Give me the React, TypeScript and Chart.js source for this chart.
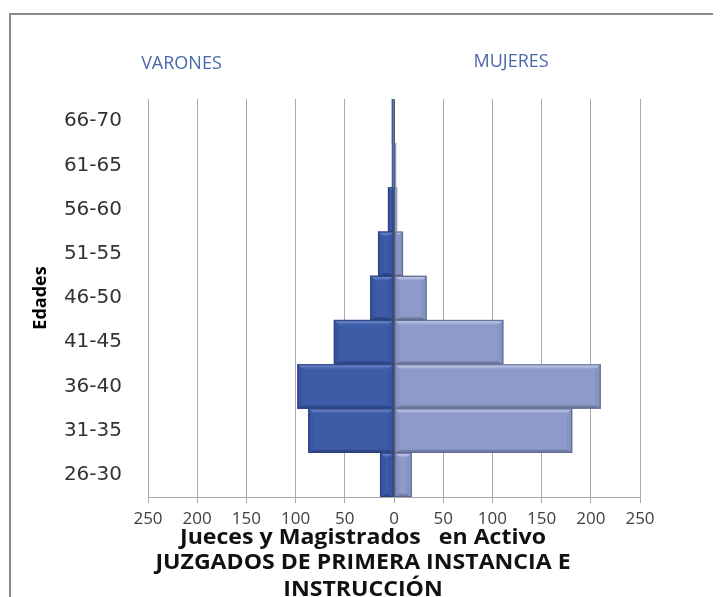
import React, { useEffect, useRef } from "react";
import { Chart, registerables } from "chart.js";

Chart.register(...registerables);

const ageGroups = ["26-30", "31-35", "36-40", "41-45", "46-50", "51-55", "56-60", "61-65", "66-70"];
const varones = [14, 87, 98, 61, 24, 16, 6, 2, 2];
const mujeres = [18, 181, 210, 111, 33, 9, 3, 2, 0];
const xTicks = [-250, -200, -150, -100, -50, 0, 50, 100, 150, 200, 250];
const sideLabels = ["VARONES", "MUJERES"];
const bottomTitle = ["Jueces y Magistrados   en Activo", "JUZGADOS DE PRIMERA INSTANCIA E", "INSTRUCCIÓN"];

const W = 713;
const H = 589;
const FONT = '"Open Sans", "Liberation Sans", sans-serif';

const palettes = [
  { face: "#3d5ba7", top: "#7891d6", bottom: "#2e4889", side: "#38559f", border: "#2b3f78" },
  { face: "#8e9bca", top: "#cdd6f4", bottom: "#727ea8", side: "#8592c2", border: "#5f688c" },
];

const bevelPlugin = {
  id: "bevel",
  afterDatasetsDraw(chart: any) {
    const ctx = chart.ctx;
    chart.data.datasets.forEach((ds: any, di: number) => {
      const meta = chart.getDatasetMeta(di);
      const p = palettes[di];
      meta.data.forEach((el: any) => {
        const left = Math.min(el.x, el.base);
        const right = Math.max(el.x, el.base);
        const top = el.y - el.height / 2;
        const bottom = el.y + el.height / 2;
        const w = right - left;
        const h = bottom - top;
        if (w < 3) return;
        const b = Math.min(5, w / 2, h / 2);
        ctx.save();
        const g = ctx.createLinearGradient(0, top, 0, top + b);
        g.addColorStop(0, p.top);
        g.addColorStop(1, p.face);
        ctx.fillStyle = g;
        ctx.beginPath();
        ctx.moveTo(left, top);
        ctx.lineTo(right, top);
        ctx.lineTo(right - b, top + b);
        ctx.lineTo(left + b, top + b);
        ctx.closePath();
        ctx.fill();
        ctx.fillStyle = p.bottom;
        ctx.beginPath();
        ctx.moveTo(left, bottom);
        ctx.lineTo(right, bottom);
        ctx.lineTo(right - b, bottom - b * 0.6);
        ctx.lineTo(left + b, bottom - b * 0.6);
        ctx.closePath();
        ctx.fill();
        ctx.fillStyle = p.side;
        ctx.beginPath();
        ctx.moveTo(left, top);
        ctx.lineTo(left + b, top + b);
        ctx.lineTo(left + b, bottom - b * 0.6);
        ctx.lineTo(left, bottom);
        ctx.closePath();
        ctx.fill();
        ctx.beginPath();
        ctx.moveTo(right, top);
        ctx.lineTo(right - b, top + b);
        ctx.lineTo(right - b, bottom - b * 0.6);
        ctx.lineTo(right, bottom);
        ctx.closePath();
        ctx.fill();
        ctx.strokeStyle = p.border;
        ctx.lineWidth = 1;
        ctx.strokeRect(left + 0.5, top + 0.5, w - 1, h - 1);
        ctx.restore();
      });
    });
    const xs = chart.scales.x;
    const x0 = Math.round(xs.getPixelForValue(0)) + 0.5;
    ctx.save();
    ctx.strokeStyle = "#5a5a5a";
    ctx.lineWidth = 1;
    ctx.beginPath();
    ctx.moveTo(x0, chart.chartArea.top);
    ctx.lineTo(x0, chart.chartArea.bottom);
    ctx.stroke();
    ctx.restore();
  },
};

const decorPlugin = {
  id: "decor",
  beforeDraw(chart: any) {
    const ctx = chart.ctx;
    ctx.save();
    ctx.fillStyle = "#ffffff";
    ctx.fillRect(0, 0, chart.width, chart.height);
    ctx.strokeStyle = "#8a8a8a";
    ctx.lineWidth = 2;
    ctx.beginPath();
    ctx.moveTo(2, chart.height);
    ctx.lineTo(2, 6);
    ctx.lineTo(chart.width, 6);
    ctx.stroke();
    ctx.restore();
  },
  afterDraw(chart: any) {
    const ctx = chart.ctx;
    const xs = chart.scales.x;
    ctx.save();
    ctx.fillStyle = "#4a69ad";
    ctx.font = `18px ${FONT}`;
    ctx.textAlign = "center";
    ctx.textBaseline = "middle";
    ctx.fillText(sideLabels[0], xs.getPixelForValue(-216), 56);
    ctx.fillText(sideLabels[1], xs.getPixelForValue(119), 54);
    ctx.fillStyle = "#111111";
    ctx.font = `bold 21px ${FONT}`;
    const cx = 355;
    const sx = 1.1;
    ctx.translate(cx, 0);
    ctx.scale(sx, 1);
    ctx.fillText(bottomTitle[0], 0, 530);
    ctx.fillText(bottomTitle[1], 0, 555);
    ctx.fillText(bottomTitle[2], 0, 582);
    ctx.restore();
  },
};

export default function App() {
  const ref = useRef<HTMLCanvasElement>(null);
  useEffect(() => {
    document.body.style.overflow = "hidden";
    const chart = new Chart(ref.current!, {
      type: "bar",
      data: {
        labels: ageGroups,
        datasets: [
          {
            label: sideLabels[0],
            data: varones.map((v) => -v),
            backgroundColor: palettes[0].face,
            borderWidth: 0,
            barPercentage: 1,
            categoryPercentage: 1,
          },
          {
            label: sideLabels[1],
            data: mujeres,
            backgroundColor: palettes[1].face,
            borderWidth: 0,
            barPercentage: 1,
            categoryPercentage: 1,
          },
        ],
      },
      options: {
        indexAxis: "y",
        responsive: false,
        animation: false,
        devicePixelRatio: 1,
        layout: { padding: { top: 91, right: 81, bottom: 60, left: 0 } },
        plugins: { legend: { display: false }, tooltip: { enabled: false }, title: { display: false } },
        scales: {
          x: {
            stacked: true,
            min: -250,
            max: 250,
            afterBuildTicks: (scale: any) => {
              scale.ticks = xTicks.map((v) => ({ value: v }));
            },
            afterFit: (scale: any) => {
              scale.height = 40;
            },
            ticks: {
              callback: (v: any) => String(Math.abs(Number(v))),
              color: "#404040",
              font: { family: FONT, size: 17 },
              padding: 6,
              maxRotation: 0,
              autoSkip: false,
            },
            grid: { color: "#a8a8a8", lineWidth: 1, drawTicks: true, tickLength: 6 },
            border: { display: true, color: "#a8a8a8" },
          },
          y: {
            stacked: true,
            reverse: true,
            afterFit: (scale: any) => {
              scale.width = 140;
            },
            ticks: {
              color: "#333333",
              font: { family: '"DejaVu Sans", sans-serif', size: 20 },
              padding: 26,
            },
            grid: { display: false, drawTicks: false },
            border: { display: false },
            title: {
              display: true,
              text: "Edades",
              color: "#000000",
              font: { family: FONT, size: 18, weight: "bold" },
              padding: { top: 22, bottom: 0 },
            },
          },
        },
      },
      plugins: [decorPlugin, bevelPlugin],
    } as any);
    return () => chart.destroy();
  }, []);
  return (
    <div style={{ width: W, height: H }}>
      <canvas ref={ref} width={W} height={H} style={{ display: "block" }} />
    </div>
  );
}
